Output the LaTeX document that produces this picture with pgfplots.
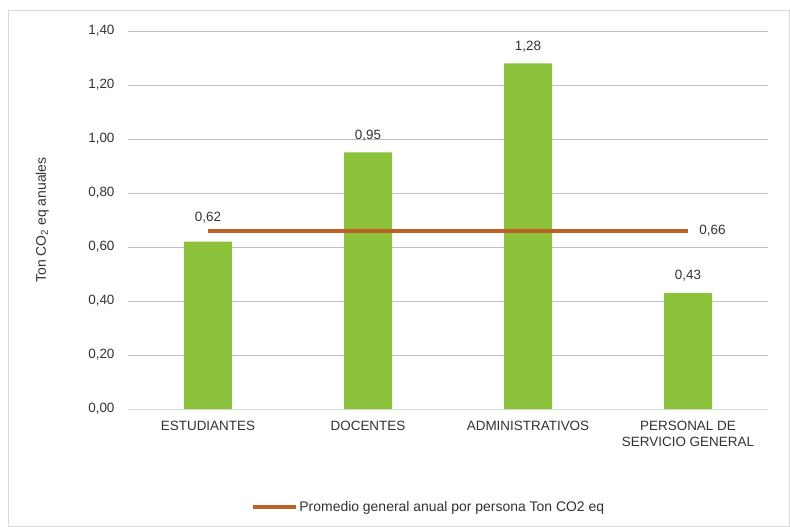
\documentclass[border=0pt]{standalone}
\usepackage{pgfplots}
\pgfplotsset{compat=1.18}
\usepackage{fontspec}
\setmainfont{Liberation Sans}
\usetikzlibrary{calc}
\definecolor{bargreen}{RGB}{140,194,60}
\definecolor{avgline}{RGB}{188,98,40}
\definecolor{txt}{RGB}{50,50,50}
\definecolor{grid}{RGB}{217,217,217}
\begin{document}
\begin{tikzpicture}
\begin{axis}[
  scale only axis,
  width=640bp, height=378bp,
  xmin=-0.5, xmax=3.5,
  ymin=0, ymax=1.4,
  ytick={0,0.2,...,1.4},
  xtick={0,1,2,3},
  xticklabels={ESTUDIANTES, DOCENTES, ADMINISTRATIVOS, {PERSONAL DE\\SERVICIO GENERAL}},
  xticklabel style={align=center, font=\fontsize{13.5}{16}\selectfont, text=txt, yshift=-9bp},
  yticklabel style={font=\fontsize{13.5}{15.5}\selectfont, text=txt, xshift=-10bp,
     /pgf/number format/.cd, use comma, fixed, fixed zerofill, precision=2},
  /pgf/number format/assume math mode=true,
  ymajorgrids, xmajorgrids=false, grid style={grid, line width=1pt},
  axis x line*=bottom, axis y line*=left,
  x axis line style={grid, line width=1pt, -},
  y axis line style={draw=none},
  major tick length=0pt,
  tick style={draw=none},
  ylabel={Ton CO\textsubscript{2} eq anuales},
  ylabel style={font=\fontsize{14}{16}\selectfont, text=txt, at={(rel axis cs:-0.134,0.5)}, anchor=center},
  legend style={at={(rel axis cs:0.47,0)}, anchor=center, yshift=-98bp, draw=none,
     font=\fontsize{14}{16}\selectfont, text=txt, legend cell align=left,
     /tikz/every even column/.append style={column sep=0pt}},
  legend image code/.code={\draw[avgline, line width=3.5pt] (-0.3cm,0cm) -- (1.2cm,0cm);},
  clip=false,
]
\addplot[ybar, bar width=0.3, fill=bargreen, draw=none, forget plot,
  visualization depends on={\thisrow{off}\as\labeloff},
  nodes near coords, every node near coord/.append style={font=\fontsize{13.5}{15.5}\selectfont, text=txt, yshift=\labeloff bp},
  nodes near coords style={/pgf/number format/.cd, use comma, fixed, fixed zerofill, precision=2, assume math mode=true}]
  table[x=x, y=y] {
  x y off
  0 0.62 15
  1 0.95 8
  2 1.28 8
  3 0.43 8
  };
\addplot[avgline, line width=4pt, mark=none]
  coordinates {(0,0.66) (1,0.66) (2,0.66) (3,0.66)}
  node[pos=1, right, xshift=6bp, font=\fontsize{13.5}{15.5}\selectfont, text=txt] {0,66};
\addlegendentry{Promedio general anual por persona Ton CO2 eq}
\coordinate (sw) at (rel axis cs:0,0);
\coordinate (ne) at (rel axis cs:1,1);
\end{axis}
\useasboundingbox ($(sw)+(-128bp,-118bp)$) rectangle ($(ne)+(22bp,31bp)$);
\draw[grid, line width=0.8pt] ($(sw)+(-120bp,-117bp)$) rectangle ($(ne)+(21bp,21bp)$);
\end{tikzpicture}
\end{document}
